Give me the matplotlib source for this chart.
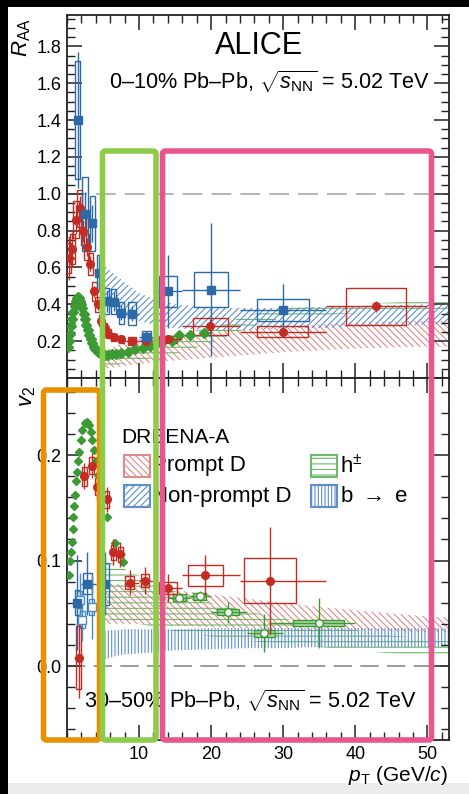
import numpy as np
import matplotlib
matplotlib.use('Agg')
import matplotlib.pyplot as plt
from matplotlib.patches import Rectangle, FancyBboxPatch

plt.rcParams['font.family'] = ['Liberation Sans', 'DejaVu Sans']
plt.rcParams['mathtext.fontset'] = 'custom'
plt.rcParams['mathtext.rm'] = 'Liberation Sans'
plt.rcParams['mathtext.it'] = 'Liberation Sans:italic'
plt.rcParams['hatch.linewidth'] = 0.8

RED = '#c42b22'
BLUE = '#2b6aa6'
GREEN = '#3b9a33'
RED_BAND = '#e08a8a'
BLUE_BAND = '#5d8fcf'
GREEN_BAND = '#6fb86a'

# ---- R_AA, 0-10% ----
pd_raa_pt = [0.25, 0.75, 1.25, 1.75, 2.25, 2.75, 3.25, 3.75, 4.25, 4.75, 5.25, 5.75,
             6.5, 7.5, 9.0, 11.0, 14.0, 19.9, 29.9, 42.9]
pd_raa_lo = [0.0, 0.5, 1.0, 1.5, 2.0, 2.5, 3.0, 3.5, 4.0, 4.5, 5.0, 5.5,
             6.0, 7.0, 8.0, 10.0, 12.0, 16.0, 24.0, 36.0]
pd_raa_hi = [0.5, 1.0, 1.5, 2.0, 2.5, 3.0, 3.5, 4.0, 4.5, 5.0, 5.5, 6.0,
             7.0, 8.0, 10.0, 12.0, 16.0, 24.0, 36.0, 50.0]
pd_raa = [0.65, 0.70, 0.86, 0.92, 0.80, 0.71, 0.62, 0.47, 0.40, 0.31, 0.27, 0.24,
          0.22, 0.21, 0.20, 0.20, 0.21, 0.28, 0.25, 0.39]
pd_raa_stat = [0.12, 0.09, 0.08, 0.07, 0.06, 0.05, 0.04, 0.03, 0.03, 0.02, 0.02, 0.02,
               0.02, 0.02, 0.02, 0.02, 0.02, 0.04, 0.03, 0.03]
pd_raa_syst = [0.08, 0.08, 0.10, 0.10, 0.08, 0.07, 0.06, 0.05, 0.04, 0.03, 0.03, 0.025,
               0.02, 0.02, 0.02, 0.02, 0.02, 0.045, 0.03, 0.10]

np_raa_pt = [1.5, 2.5, 3.5, 4.5, 5.5, 6.5, 7.5, 9.0, 11.0, 14.0, 20.0, 30.0]
np_raa_lo = [1.0, 2.0, 3.0, 4.0, 5.0, 6.0, 7.0, 8.0, 10.0, 12.0, 16.0, 24.0]
np_raa_hi = [2.0, 3.0, 4.0, 5.0, 6.0, 7.0, 8.0, 10.0, 12.0, 16.0, 24.0, 36.0]
np_raa = [1.40, 0.89, 0.84, 0.57, 0.42, 0.415, 0.355, 0.35, 0.225, 0.47, 0.48, 0.37]
np_raa_stat = [0.37, 0.12, 0.10, 0.09, 0.06, 0.05, 0.04, 0.04, 0.03, 0.20, 0.36, 0.14]
np_raa_syst = [0.32, 0.20, 0.15, 0.10, 0.07, 0.07, 0.06, 0.06, 0.03, 0.083, 0.093, 0.06]

h_raa_pt = [0.15, 0.3, 0.45, 0.6, 0.75, 0.9, 1.05, 1.2, 1.35, 1.5, 1.65, 1.8, 1.95,
            2.1, 2.3, 2.5, 2.7, 2.9, 3.1, 3.3, 3.5, 3.7, 3.9, 4.25, 4.75, 5.25, 5.75,
            6.25, 6.75, 7.5, 8.5, 9.5, 10.5, 11.5, 13.0, 14.5, 15.5, 17.0, 19.0]
h_raa = [0.17, 0.20, 0.24, 0.28, 0.32, 0.36, 0.39, 0.42, 0.435, 0.44, 0.435, 0.42, 0.40,
         0.38, 0.35, 0.32, 0.29, 0.26, 0.235, 0.21, 0.19, 0.17, 0.155, 0.14, 0.13, 0.125, 0.125,
         0.13, 0.13, 0.135, 0.14, 0.155, 0.165, 0.175, 0.19, 0.20, 0.235, 0.235, 0.245]

band_pt = [5, 6, 7, 8, 10, 12, 15, 20, 25, 30, 35, 40, 45, 50, 53]
pd_raa_band_lo = [0.05, 0.055, 0.06, 0.065, 0.075, 0.085, 0.095, 0.11, 0.125, 0.14, 0.15, 0.16, 0.165, 0.17, 0.17]
pd_raa_band_hi = [0.14, 0.16, 0.18, 0.19, 0.21, 0.22, 0.235, 0.25, 0.265, 0.28, 0.29, 0.30, 0.305, 0.31, 0.31]
np_raa_band_lo = [0.45, 0.41, 0.38, 0.35, 0.31, 0.29, 0.27, 0.26, 0.26, 0.27, 0.27, 0.28, 0.28, 0.29, 0.29]
np_raa_band_hi = [0.62, 0.58, 0.55, 0.52, 0.46, 0.43, 0.40, 0.38, 0.38, 0.38, 0.385, 0.39, 0.395, 0.40, 0.40]
h_raa_band_lo = [0.06, 0.065, 0.07, 0.08, 0.09, 0.11, 0.13, 0.19, 0.27, 0.33, 0.34, 0.35, 0.36, 0.37, 0.37]
h_raa_band_hi = [0.14, 0.15, 0.155, 0.16, 0.18, 0.20, 0.24, 0.27, 0.34, 0.38, 0.39, 0.40, 0.41, 0.42, 0.42]

# ---- v2, 30-50% ----
pd_v2_pt = [1.65, 2.4, 3.4, 4.2, 5.5, 6.4, 7.4, 8.7, 10.8, 14.0, 19.2, 28.2]
pd_v2_lo = [1.0, 2.0, 3.0, 4.0, 5.0, 6.0, 7.0, 8.0, 10.0, 12.0, 16.0, 24.0]
pd_v2_hi = [2.0, 3.0, 4.0, 5.0, 6.0, 7.0, 8.0, 10.0, 12.0, 16.0, 24.0, 36.0]
pd_v2 = [0.008, 0.180, 0.190, 0.170, 0.158, 0.108, 0.106, 0.079, 0.081, 0.074, 0.086, 0.081]
pd_v2_stat = [0.038, 0.012, 0.012, 0.012, 0.012, 0.012, 0.012, 0.012, 0.013, 0.013, 0.019, 0.051]
pd_v2_syst = [0.030, 0.009, 0.008, 0.008, 0.008, 0.007, 0.007, 0.006, 0.006, 0.006, 0.010, 0.021]

np_v2_pt = [1.4, 2.8, 5.25]
np_v2_lo = [1.0, 2.0, 4.0]
np_v2_hi = [2.0, 4.0, 6.0]
np_v2 = [0.060, 0.078, 0.078]
np_v2_stat = [0.045, 0.030, 0.030]
np_v2_syst = [0.012, 0.010, 0.020]

be_v2_pt = [1.75, 2.15, 3.4]
be_v2 = [0.063, 0.044, 0.056]
be_v2_stat = [0.025, 0.02, 0.03]
be_v2_syst = [0.008, 0.008, 0.008]

h_v2_pt = [0.3, 0.4, 0.5, 0.65, 0.8, 0.9, 1.0, 1.1, 1.2, 1.35, 1.55, 1.7, 1.9, 2.15,
           2.5, 2.8, 3.1, 3.3, 3.5, 3.8, 4.0, 4.3, 4.7, 5.5, 6.6, 7.8]
h_v2 = [0.086, 0.100, 0.108, 0.118, 0.130, 0.141, 0.152, 0.162, 0.175, 0.184, 0.194, 0.203,
        0.214, 0.224, 0.230, 0.231, 0.228, 0.222, 0.214, 0.205, 0.194, 0.181, 0.165, 0.141,
        0.117, 0.099]

hh_v2_pt = [15.6, 18.4, 22.3, 27.4, 34.9]
hh_v2_lo = [14.0, 17.0, 20.0, 25.0, 28.0]
hh_v2_hi = [17.0, 20.0, 25.0, 30.0, 40.0]
hh_v2 = [0.065, 0.066, 0.051, 0.031, 0.041]
hh_v2_stat = [0.004, 0.005, 0.010, 0.018, 0.024]
hh_v2_syst = [0.003, 0.003, 0.003, 0.003, 0.003]

pd_v2_band_lo = [0.040, 0.040, 0.040, 0.040, 0.040, 0.039, 0.038, 0.037, 0.036, 0.035, 0.034, 0.034, 0.033, 0.032, 0.032]
pd_v2_band_hi = [0.078, 0.078, 0.078, 0.077, 0.076, 0.074, 0.072, 0.068, 0.064, 0.060, 0.056, 0.053, 0.050, 0.047, 0.046]
be_v2_band_lo = [0.006, 0.008, 0.010, 0.011, 0.012, 0.013, 0.015, 0.016, 0.017, 0.017, 0.018, 0.018, 0.018, 0.018, 0.018]
be_v2_band_hi = [0.033, 0.034, 0.034, 0.035, 0.035, 0.035, 0.035, 0.036, 0.036, 0.036, 0.036, 0.036, 0.036, 0.036, 0.036]
h_v2_band_lo = [0.045, 0.044, 0.043, 0.042, 0.040, 0.037, 0.033, 0.028, 0.024, 0.021, 0.018, 0.015, 0.012, 0.010, 0.009]
h_v2_band_hi = [0.100, 0.098, 0.095, 0.092, 0.086, 0.080, 0.071, 0.060, 0.052, 0.045, 0.039, 0.034, 0.029, 0.026, 0.025]


def draw_band(ax, lo, hi, color, hatch):
    ax.fill_between(band_pt, lo, hi, facecolor='none', edgecolor=color,
                    hatch=hatch, linewidth=0, zorder=1)


def draw_points(ax, x, y, stat, syst, color, marker, xlo=None, xhi=None,
                ms=5.5, mfc=None, boxfill=None):
    x = np.asarray(x, float)
    if xlo is not None:
        xerr = [x - np.asarray(xlo), np.asarray(xhi) - x]
        widths = np.asarray(xhi) - np.asarray(xlo)
    else:
        xerr = None
        widths = np.full(len(x), 1.0)
    for xi, yi, si, wi in zip(x, y, syst, widths):
        hw = max(0.3 * wi, 0.35)
        if boxfill is not None:
            ax.add_patch(Rectangle((xi - hw, yi - si), 2 * hw, 2 * si,
                                   facecolor=boxfill, edgecolor='none', zorder=3))
        ax.add_patch(Rectangle((xi - hw, yi - si), 2 * hw, 2 * si, fill=False,
                               edgecolor=color, linewidth=1.0, zorder=3))
    ax.errorbar(x, y, yerr=stat, xerr=xerr, fmt=marker, color=color, ms=ms,
                mfc=mfc if mfc else color, mec=color, elinewidth=1.0, capsize=0,
                zorder=4)


fig = plt.figure(figsize=(4.69, 7.94), dpi=100)
L, R = 67 / 469, 449 / 469
top_ax = fig.add_axes([L, 1 - 378 / 794, R - L, (378 - 15) / 794])
bot_ax = fig.add_axes([L, 1 - 740 / 794, R - L, (740 - 378) / 794], sharex=top_ax)

for ax in (top_ax, bot_ax):
    ax.set_xlim(0, 53)
    ax.tick_params(which='both', direction='in', top=True, right=True,
                   labelsize=13, color='#222222', pad=4)
    ax.tick_params(which='major', length=11, width=1.1)
    ax.tick_params(which='minor', length=6, width=1.0)
    ax.set_xticks([10, 20, 30, 40, 50])
    ax.set_xticks(np.arange(0, 53, 2), minor=True)
    for s in ax.spines.values():
        s.set_linewidth(1.3)
        s.set_color('#222222')

# upper panel
ax = top_ax
ax.set_ylim(0.0, 1.97)
ax.set_yticks([0.2, 0.4, 0.6, 0.8, 1.0, 1.2, 1.4, 1.6, 1.8])
ax.set_yticks(np.arange(0.05, 1.97, 0.05), minor=True)
ax.set_yticklabels(['0.2', '0.4', '0.6', '0.8', '1.0', '1.2', '1.4', '1.6', '1.8'])
ax.tick_params(axis='x', labelbottom=False)
ax.axhline(1.0, color='#b0b0b0', lw=1.3, dashes=(11, 5), zorder=0)
draw_band(ax, pd_raa_band_lo, pd_raa_band_hi, RED_BAND, '\\\\\\\\\\')
draw_band(ax, h_raa_band_lo, h_raa_band_hi, GREEN_BAND, '---')
draw_band(ax, np_raa_band_lo, np_raa_band_hi, BLUE_BAND, '/////')
ax.plot(h_raa_pt, h_raa, 'D', color=GREEN, ms=5, zorder=4)
draw_points(ax, pd_raa_pt, pd_raa, pd_raa_stat, pd_raa_syst, RED, 'o',
            pd_raa_lo, pd_raa_hi)
draw_points(ax, np_raa_pt, np_raa, np_raa_stat, np_raa_syst, BLUE, 's',
            np_raa_lo, np_raa_hi)
ax.text(0.503, 0.915, 'ALICE', transform=ax.transAxes, ha='center', va='center',
        fontsize=22)
ax.text(0.95, 0.815, r'0–10% Pb–Pb, $\sqrt{s_{\rm NN}}$ = 5.02 TeV',
        transform=ax.transAxes, ha='right', va='center', fontsize=15.6)

# lower panel
ax = bot_ax
ax.set_ylim(-0.07, 0.273)
ax.set_yticks([0.0, 0.1, 0.2])
ax.set_yticklabels(['0.0', '0.1', '0.2'])
ax.set_yticks(np.arange(-0.06, 0.273, 0.02), minor=True)
ax.axhline(0.0, color='#8a8a8a', lw=1.2, dashes=(11, 5), zorder=0)
draw_band(ax, pd_v2_band_lo, pd_v2_band_hi, RED_BAND, '\\\\\\\\\\')
draw_band(ax, h_v2_band_lo, h_v2_band_hi, GREEN_BAND, '---')
draw_band(ax, be_v2_band_lo, be_v2_band_hi, BLUE_BAND, '|||||')
ax.plot(h_v2_pt, h_v2, 'D', color=GREEN, ms=4.5, zorder=4)
draw_points(ax, hh_v2_pt, hh_v2, hh_v2_stat, hh_v2_syst, GREEN, 'o',
            hh_v2_lo, hh_v2_hi, mfc='white', boxfill='#a9d6a3')
draw_points(ax, be_v2_pt, be_v2, be_v2_stat, be_v2_syst, '#4a8ac4', 's', mfc='white')
draw_points(ax, np_v2_pt, np_v2, np_v2_stat, np_v2_syst, BLUE, 's',
            np_v2_lo, np_v2_hi)
draw_points(ax, pd_v2_pt, pd_v2, pd_v2_stat, pd_v2_syst, RED, 'o',
            pd_v2_lo, pd_v2_hi)
ax.text(0.916, 0.108, r'30–50% Pb–Pb, $\sqrt{s_{\rm NN}}$ = 5.02 TeV',
        transform=ax.transAxes, ha='right', va='center', fontsize=15.6)
ax.set_xticklabels(['10', '20', '30', '40', '50'])

# model legend
ax.text(0.143, 0.835, 'DREENA-A', transform=ax.transAxes, ha='left',
        va='center', fontsize=15)
entries = [(0.148, 0.757, RED_BAND, '\\\\\\\\\\', 'Prompt D'),
           (0.148, 0.674, BLUE_BAND, '/////', 'Non-prompt D'),
           (0.64, 0.757, GREEN_BAND, '---', r'h$^{\pm}$'),
           (0.64, 0.674, BLUE_BAND, '|||||', r'b $\rightarrow$ e')]
for ex, ey, col, hatch, lab in entries:
    ax.add_patch(Rectangle((ex, ey - 0.03), 0.068, 0.06, transform=ax.transAxes,
                           facecolor='none', edgecolor=col, hatch=hatch,
                           linewidth=1.5, zorder=5))
    ax.text(ex + 0.075, ey, lab, transform=ax.transAxes, ha='left', va='center',
            fontsize=16, zorder=5)

# axis titles
fig.text(22 / 469, 1 - 18 / 794, r'$R_{\rm AA}$', rotation=90, ha='center',
         va='top', fontsize=16)
fig.text(27 / 469, 1 - 386 / 794, r'$v_2$', rotation=90, ha='center',
         va='top', fontsize=16)
fig.text(448 / 469, 1 - 764 / 794, r'$p_{\rm T}$ (GeV/$c$)', ha='right',
         va='top', fontsize=15)

# screen frame around the slide
fig.patches.append(Rectangle((0, 0), 8 / 469, 1, transform=fig.transFigure,
                             facecolor='black', edgecolor='none', zorder=0))
fig.patches.append(Rectangle((0, 1 - 7 / 794), 1, 7 / 794, transform=fig.transFigure,
                             facecolor='black', edgecolor='none', zorder=0))
fig.patches.append(Rectangle((8 / 469, 0), 1, 11 / 794, transform=fig.transFigure,
                             facecolor='#ececec', edgecolor='none', zorder=0))

# highlighted pT regions (pixel boxes: left, top, right, bottom)
highlights = [((43.5, 390, 99.5, 740), '#e69100'),
              ((102.5, 151, 156, 740), '#8dcc4a'),
              ((162.5, 151, 431.5, 740), '#e9558f')]
for (x0, y0, x1, y1), col in highlights:
    fig.patches.append(FancyBboxPatch((x0 / 100, (794 - y1) / 100),
                                      (x1 - x0) / 100, (y1 - y0) / 100,
                                      boxstyle='round,pad=0,rounding_size=0.03',
                                      transform=fig.dpi_scale_trans,
                                      facecolor='none', edgecolor=col,
                                      linewidth=4.0, zorder=10))

fig.savefig('out.png', dpi=100)
